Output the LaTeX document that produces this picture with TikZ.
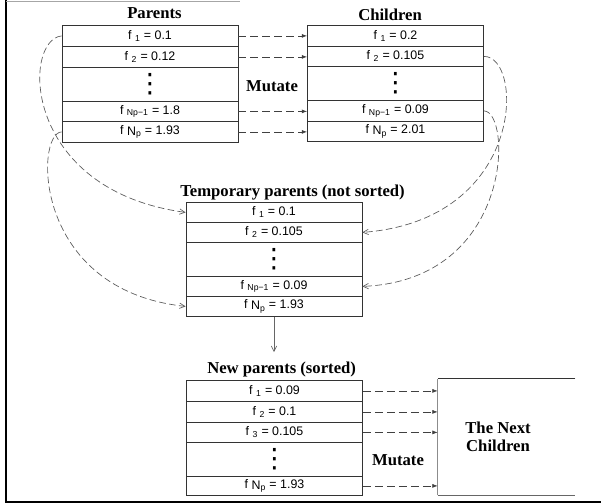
\documentclass[tikz,border=0pt]{standalone}
\usepackage{fontspec}
\setmainfont{Liberation Serif}
\newfontfamily\labfont{Liberation Sans}
\newfontfamily\dotfont{DejaVu Sans}
\usetikzlibrary{arrows.meta}
\newcommand\vdt{⋮}
\newcommand\fsub[1]{f\ \textsubscript{#1}}
\newcommand\fnp{f\ \raisebox{-0.8pt}{N\textsubscript{p}}}
\begin{document}
\begin{tikzpicture}[x=0.75pt,y=-0.75pt,
 cell/.style={draw=black!80, line width=0.6pt, minimum width=132pt, inner sep=0pt, anchor=north,
   font=\labfont\fontsize{9.3}{10}\selectfont},
 dotcell/.style={cell, font=\dotfont\fontsize{20}{20}\selectfont},
 ttl/.style={font=\bfseries\fontsize{12.5}{13.5}\selectfont, inner sep=0pt, align=center},
 harrow/.style={draw=black!75, line width=0.5pt, dash pattern=on 6pt off 3pt, -{Latex[length=4pt,width=3pt]}},
 carrow/.style={draw=black!65, line width=0.5pt, dash pattern=on 5pt off 2.5pt, -{Straight Barb[length=4pt,width=4pt]}},
 sarrow/.style={draw=black!60, line width=0.5pt, -{Straight Barb[length=4pt,width=4pt]}},
 frame/.style={draw=black, line width=0.9pt}]
\useasboundingbox (0,0) rectangle (601,504);
% frame
\draw[frame] (6,0) -- (6,502) -- (601,502);
\draw[black!35, line width=0.5pt] (6,1) -- (240,1);

% Parents
\node[ttl, anchor=west] (tp) at (127,13) {Parents};
\node[cell, minimum height=15.75pt] (p1) at (150,25) {\fsub{1} = 0.1};
\node[cell, minimum height=15.75pt] (p2) at (150,46) {\fsub{2} = 0.12};
\node[dotcell, minimum height=25.5pt] (p3) at (150,67) {\vdt};
\node[cell, minimum height=15pt] (p4) at (150,101) {\fsub{Np−1} = 1.8};
\node[cell, minimum height=15.75pt] (p5) at (150,121) {\fnp\ = 1.93};

% Children
\node[ttl, anchor=west] (tc) at (358,15) {Children};
\node[cell, minimum height=15.75pt] (c1) at (395.5,25) {\fsub{1} = 0.2};
\node[cell, minimum height=15pt] (c2) at (395.5,46) {\fsub{2} = 0.105};
\node[dotcell, minimum height=25.5pt] (c3) at (395.5,66) {\vdt};
\node[cell, minimum height=15.75pt] (c4) at (395.5,100) {\fsub{Np−1} = 0.09};
\node[cell, minimum height=15pt] (c5) at (395.5,121) {\fnp\ = 2.01};

\node[ttl] (m1) at (272,86) {Mutate};
\draw[harrow] (p1.east) -- (c1.west |- p1.east);
\draw[harrow] (p2.east) -- (c2.west |- p2.east);
\draw[harrow] (p4.east) -- (c4.west |- p4.east);
\draw[harrow] (p5.east) -- (c5.west |- p5.east);

% Temporary parents
\node[ttl, anchor=west] (tt) at (180,193) {Temporary parents (not sorted)};
\node[cell, minimum height=15pt] (t1) at (274,202) {\fsub{1} = 0.1};
\node[cell, minimum height=15pt] (t2) at (274,222) {\fsub{2} = 0.105};
\node[dotcell, minimum height=25.5pt] (t3) at (274,242) {\vdt};
\node[cell, minimum height=15pt] (t4) at (274,276) {\fsub{Np−1} = 0.09};
\node[cell, minimum height=15pt] (t5) at (274,296) {\fnp\ = 1.93};

\draw[carrow] (p1.west) .. controls (22,40) and (22,190) .. (t1.west);
\draw[carrow] (p5.west) .. controls (35,133) and (32,290) .. (t5.west);
\draw[carrow] (c2.east) .. controls (524,56) and (526,220) .. (t2.east);
\draw[carrow] (c4.east) .. controls (512,111) and (514,280) .. (t4.east);

% New parents
\node[ttl, anchor=west] (tn) at (207,369) {New parents (sorted)};
\draw[sarrow] (t5.south) -- (274,352);
\node[cell, minimum height=15.75pt] (n1) at (274.5,380) {\fsub{1} = 0.09};
\node[cell, minimum height=15.75pt] (n2) at (274.5,401) {\fsub{2} = 0.1};
\node[cell, minimum height=15pt] (n3) at (274.5,422) {\fsub{3} = 0.105};
\node[dotcell, minimum height=25.5pt] (n4) at (274.5,442) {\vdt};
\node[cell, minimum height=14.25pt] (n5) at (274.5,476) {\fnp\ = 1.93};

% Next children
\node[minimum width=102.75pt, minimum height=87pt, inner sep=0pt] (nx) at (506.5,437) {};
\draw[black!80, line width=0.6pt] (nx.north east) -- (nx.north west);
\draw[black!45, line width=0.5pt] (nx.north west) -- (nx.south west);
\draw[black!60, line width=0.5pt] (nx.south west) -- (nx.south east);
\node[ttl] (nxt) at (498,437) {The Next\\Children};
\node[ttl] (m2) at (398,460) {Mutate};
\draw[harrow] (n1.east) -- (nx.west |- n1.east);
\draw[harrow] (n2.east) -- (nx.west |- n2.east);
\draw[harrow] (n3.east) -- (nx.west |- n3.east);
\draw[harrow] (n5.east) -- (nx.west |- n5.east);
\end{tikzpicture}
\end{document}
